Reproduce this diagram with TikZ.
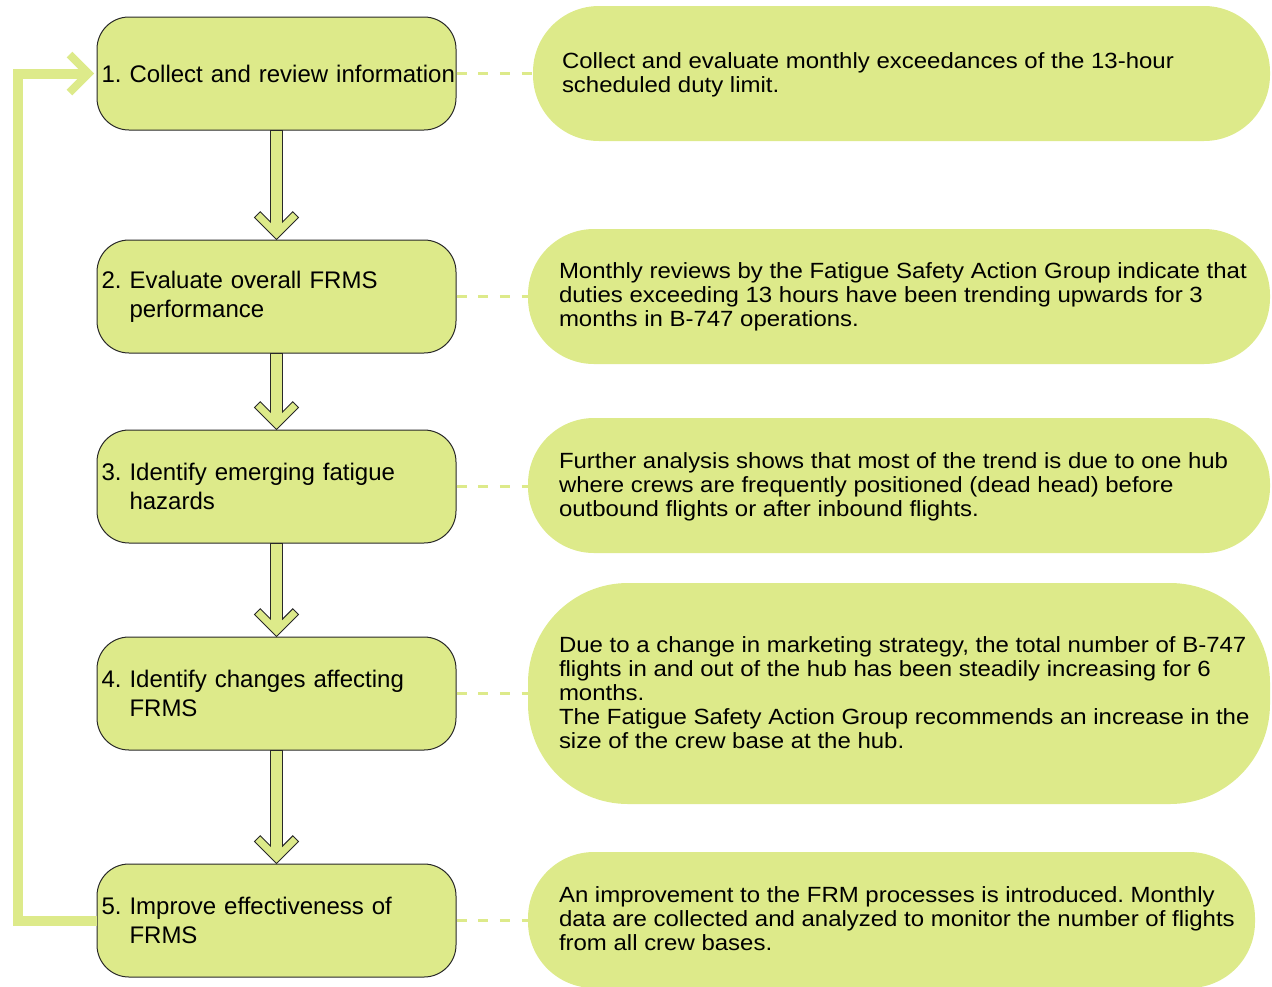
\documentclass[tikz,border=0pt]{standalone}
\usepackage{fontspec}
\setmainfont{Liberation Sans}
\newfontfamily\widefont[FakeStretch=1.09]{Liberation Sans}
\usetikzlibrary{calc}
\frenchspacing
\hyphenpenalty=10000
\hbadness=10000
\hfuzz=20pt
\definecolor{leaf}{RGB}{221,234,138}
\definecolor{rim}{RGB}{40,40,40}
\tikzset{
  stepbox/.style={draw=rim, line width=1pt, fill=leaf, rounded corners=32pt,
    minimum width=359pt, minimum height=113pt, text width=350pt, inner xsep=4.5pt,
    align=left, font=\fontsize{24}{29}\selectfont},
  notebox/.style={fill=leaf, draw=none, inner sep=0pt},
  notetext/.style={anchor=west, align=left, inner sep=0pt,
    font=\widefont\fontsize{22}{24}\selectfont},
  tie/.style={draw=leaf, line width=2.2pt, dash pattern=on 10pt off 11.7pt},
  arrowbody/.style={draw=rim, line width=0.9pt, fill=leaf, line join=miter},
  loopline/.style={draw=leaf, line width=10pt, line join=miter},
  loophead/.style={draw=leaf, line width=8pt, line join=miter},
}
% outlined down arrow with an open chevron head, from #1 to #2
\newcommand{\downconn}[2]{%
  \path[arrowbody] ($(#1.south)+(-6,0)$) -- ($(#2.north)+(-6,-17.4)$)
    -- ($(#2.north)+(-16.3,-27.7)$) -- ($(#2.north)+(-22,-22)$)
    -- (#2.north) -- ($(#2.north)+(22,-22)$) -- ($(#2.north)+(16.3,-27.7)$)
    -- ($(#2.north)+(6,-17.4)$) -- ($(#1.south)+(6,0)$) -- cycle;}
\begin{document}
\begin{tikzpicture}[x=1pt, y=-1pt]
\useasboundingbox (0,0) rectangle (1272,986);

% process steps
\node[stepbox] (b1) at (276.5,73.5) {\mbox{1. Collect and review information}};
\node[stepbox] (b2) at (276.5,296.5) {2. Evaluate overall FRMS\\\hphantom{2. }performance};
\node[stepbox] (b3) at (276.5,486.5) {3. Identify emerging fatigue\\\hphantom{3. }hazards};
\node[stepbox] (b4) at (276.5,693.5) {4. Identify changes affecting\\\hphantom{4. }FRMS};
\node[stepbox] (b5) at (276.5,920.5) {5. Improve effectiveness of\\\hphantom{5. }FRMS};

% example notes
\node[notebox, rounded corners=66pt, minimum width=737pt, minimum height=135pt] (r1) at (901.5,73.5) {};
\node[notebox, rounded corners=66pt, minimum width=742pt, minimum height=135pt] (r2) at (899,296.5) {};
\node[notebox, rounded corners=66pt, minimum width=742pt, minimum height=135pt] (r3) at (899,485.5) {};
\node[notebox, rounded corners=100pt, minimum width=742pt, minimum height=221pt] (r4) at (899,693.5) {};
\node[notebox, rounded corners=66pt, minimum width=727pt, minimum height=136pt] (r5) at (891.5,920) {};

\node[notetext] (t1) at ($(r1.west)+(29,1.5)$) {Collect and evaluate monthly exceedances of the 13-hour\\scheduled duty limit.};
\node[notetext] (t2) at ($(r2.west)+(31,0.5)$) {Monthly reviews by the Fatigue Safety Action Group indicate that\\duties exceeding 13 hours have been trending upwards for 3\\months in B-747 operations.};
\node[notetext] (t3) at ($(r3.west)+(31,1.5)$) {Further analysis shows that most of the trend is due to one hub\\where crews are frequently positioned (dead head) before\\outbound flights or after inbound flights.};
\node[notetext] (t4) at ($(r4.west)+(31,-0.5)$) {Due to a change in marketing strategy, the total number of B-747\\flights in and out of the hub has been steadily increasing for 6\\months.\\The Fatigue Safety Action Group recommends an increase in the\\size of the crew base at the hub.};
\node[notetext] (t5) at ($(r5.west)+(31,-1)$) {An improvement to the FRM processes is introduced. Monthly\\data are collected and analyzed to monitor the number of flights\\from all crew bases.};

% dashed ties from steps to notes
\draw[tie] (b1.east) -- (r1.west);
\draw[tie] (b2.east) -- (b2.east -| r2.west);
\draw[tie] (b3.east) -- (b3.east -| r3.west);
\draw[tie] (b4.east) -- (b4.east -| r4.west);
\draw[tie] (b5.east) -- (b5.east -| r5.west);

% flow arrows between steps
\downconn{b1}{b2}
\downconn{b2}{b3}
\downconn{b3}{b4}
\downconn{b4}{b5}

% feedback loop from the last step back to the first
\coordinate (headtip) at ($(b1.west)+(-8,0)$);
\draw[loopline] (b5.west) -- ++(-79,0) |- (headtip);
\draw[loophead] ($(headtip)+(-19,-19)$) -- (headtip) -- ($(headtip)+(-19,19)$);
\end{tikzpicture}
\end{document}
